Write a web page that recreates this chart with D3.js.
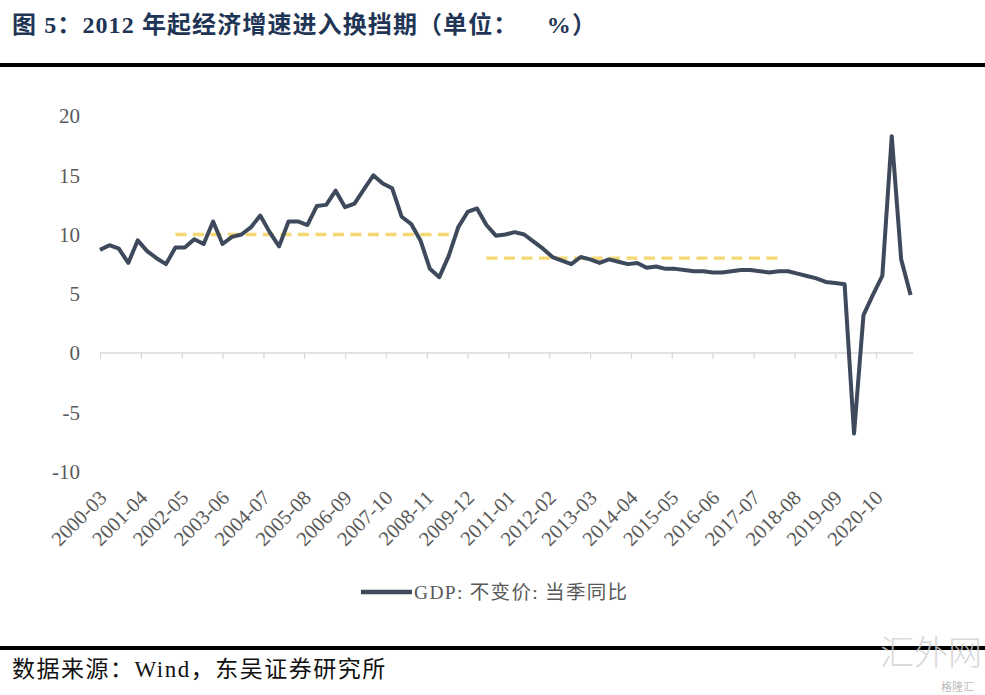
<!DOCTYPE html>
<html><head><meta charset="utf-8">
<script src="https://cdn.jsdelivr.net/npm/d3@7"></script>
<style>body{margin:0;background:#fff}svg{display:block}</style>
</head><body>
<svg id="c" width="985" height="695"></svg>
<script>
// ---- data ----
const years = d3.range(2000, 2022);
const quarterMonths = ["03","06","09","12"];
const categories = [];
years.forEach(y => quarterMonths.forEach(m => { if (!(y === 2021 && m === "12")) categories.push(y + "-" + m); }));

const gdpValues = [
  8.7, 9.1, 8.8, 7.6,   9.5, 8.6, 8.0, 7.5,   8.9, 8.9, 9.6, 9.2,
  11.1, 9.2, 9.8, 10.0, 10.6, 11.6, 10.2, 9.0, 11.1, 11.1, 10.8, 12.4,
  12.5, 13.7, 12.3, 12.6, 13.8, 15.0, 14.3, 13.9, 11.5, 10.9, 9.5, 7.1,
  6.4, 8.2, 10.6, 11.9, 12.2, 10.8, 9.9, 10.0, 10.2, 10.0, 9.4, 8.8,
  8.1, 7.8, 7.5, 8.1, 7.9, 7.6, 7.9, 7.7, 7.5, 7.6, 7.2, 7.3,
  7.1, 7.1, 7.0, 6.9, 6.9, 6.8, 6.8, 6.9, 7.0, 7.0, 6.9, 6.8,
  6.9, 6.9, 6.7, 6.5, 6.3, 6.0, 5.9, 5.8, -6.8, 3.2, 4.9, 6.5,
  18.3, 7.9, 4.9
];

const tickLabels = ["2000-03","2001-04","2002-05","2003-06","2004-07","2005-08","2006-09",
  "2007-10","2008-11","2009-12","2011-01","2012-02","2013-03","2014-04","2015-05","2016-06",
  "2017-07","2018-08","2019-09","2020-10"];
const yTicks = [-10, -5, 0, 5, 10, 15, 20];

const avgLevels = [10, 8];
const avgStarts = ["2002-03", "2010-06"];
const avgEnds = ["2009-09", "2018-03"];

const seriesName = "GDP: 不变价: 当季同比";
const titleText = "图 5：2012 年起经济增速进入换挡期（单位：    %）";
const sourceText = "数据来源：Wind，东吴证券研究所";

// ---- helpers ----
const monthIdx = s => { const [y, m] = s.split("-").map(Number); return (y - 2000) * 12 + (m - 3); };

const svg = d3.select("#c");
const serif = "'Liberation Serif','Times New Roman','Noto Sans CJK SC',serif";
const cjk = "'Liberation Serif','Noto Sans CJK SC',sans-serif";

const x = d3.scaleLinear().domain([0, monthIdx("2021-09")]).range([100, 910.6]);
const y = d3.scaleLinear().domain([-10, 20]).range([471.5, 116]);

// title
svg.append("text").attr("x", 12).attr("y", 33)
  .attr("font-family", cjk).attr("font-weight", "bold").attr("font-size", 24)
  .attr("letter-spacing", 1.1)
  .attr("fill", "#1F3556").attr("xml:space", "preserve").style("white-space", "pre")
  .text(titleText);
svg.append("rect").attr("x", 0).attr("y", 63).attr("width", 985).attr("height", 4).attr("fill", "#000");

// y labels
svg.append("g").selectAll("text").data(yTicks).join("text")
  .attr("x", 80).attr("y", d => y(d)).attr("dy", "0.35em")
  .attr("text-anchor", "end").attr("font-family", serif).attr("font-size", 21)
  .attr("fill", "#595959").text(d => d);

// x axis at zero
const tickPos = tickLabels.map(monthIdx);
const xAxis = d3.axisBottom(x).tickValues(tickPos).tickSize(6).tickFormat("");
const gx = svg.append("g").attr("transform", `translate(0,${y(0)})`).call(xAxis);
gx.select(".domain").remove();
gx.selectAll(".tick line").attr("stroke", "#D9D9D9").attr("stroke-width", 1.3);
svg.append("line").attr("x1", x(0)).attr("x2", x(monthIdx("2021-09")) + 2.5)
  .attr("y1", y(0)).attr("y2", y(0)).attr("stroke", "#D9D9D9").attr("stroke-width", 1.5);

// x tick labels (at bottom of plot)
svg.append("g").selectAll("text").data(tickLabels).join("text")
  .attr("transform", d => `translate(${x(monthIdx(d)) + 8},${499}) rotate(-45)`)
  .attr("text-anchor", "end").attr("font-family", serif).attr("font-size", 20.5)
  .attr("fill", "#595959").text(d => d);

// average dashed lines
svg.append("g").selectAll("line").data(avgLevels).join("line")
  .attr("x1", (d, i) => x(monthIdx(avgStarts[i]))).attr("x2", (d, i) => x(monthIdx(avgEnds[i])))
  .attr("y1", d => y(d)).attr("y2", d => y(d))
  .attr("stroke", "#F4D873").attr("stroke-width", 3.3).attr("stroke-dasharray", "11,6.5");

// main line
const line = d3.line().x((d, i) => x(monthIdx(categories[i]))).y(d => y(d));
svg.append("path").datum(gdpValues).attr("d", line)
  .attr("fill", "none").attr("stroke", "#3E4A5C").attr("stroke-width", 4)
  .attr("stroke-linejoin", "round");

// legend
svg.append("line").attr("x1", 361).attr("x2", 412).attr("y1", 592).attr("y2", 592)
  .attr("stroke", "#3E4A5C").attr("stroke-width", 4.5);
svg.append("text").attr("x", 414).attr("y", 592).attr("dy", "0.35em")
  .attr("font-family", cjk).attr("font-size", 19.5).attr("letter-spacing", 1.3)
  .attr("fill", "#595959").text(seriesName);

// bottom rule and source
svg.append("rect").attr("x", 0).attr("y", 646).attr("width", 985).attr("height", 4).attr("fill", "#000");
svg.append("text").attr("x", 12).attr("y", 677)
  .attr("font-family", cjk).attr("font-size", 23).attr("letter-spacing", 1.5)
  .attr("fill", "#111").text(sourceText);

// watermark
svg.append("text").attr("x", 982).attr("y", 665).attr("text-anchor", "end")
  .attr("font-family", "'Noto Sans CJK SC',sans-serif").attr("font-weight", 300).attr("font-size", 34)
  .attr("fill", "#D0D0D0").attr("opacity", 0.8).text("汇外网");
svg.append("text").attr("x", 974).attr("y", 691).attr("text-anchor", "end")
  .attr("font-family", "'Noto Sans CJK SC',sans-serif").attr("font-size", 11)
  .attr("fill", "#BBBBBB").text("格隆汇");
</script>
</body></html>
